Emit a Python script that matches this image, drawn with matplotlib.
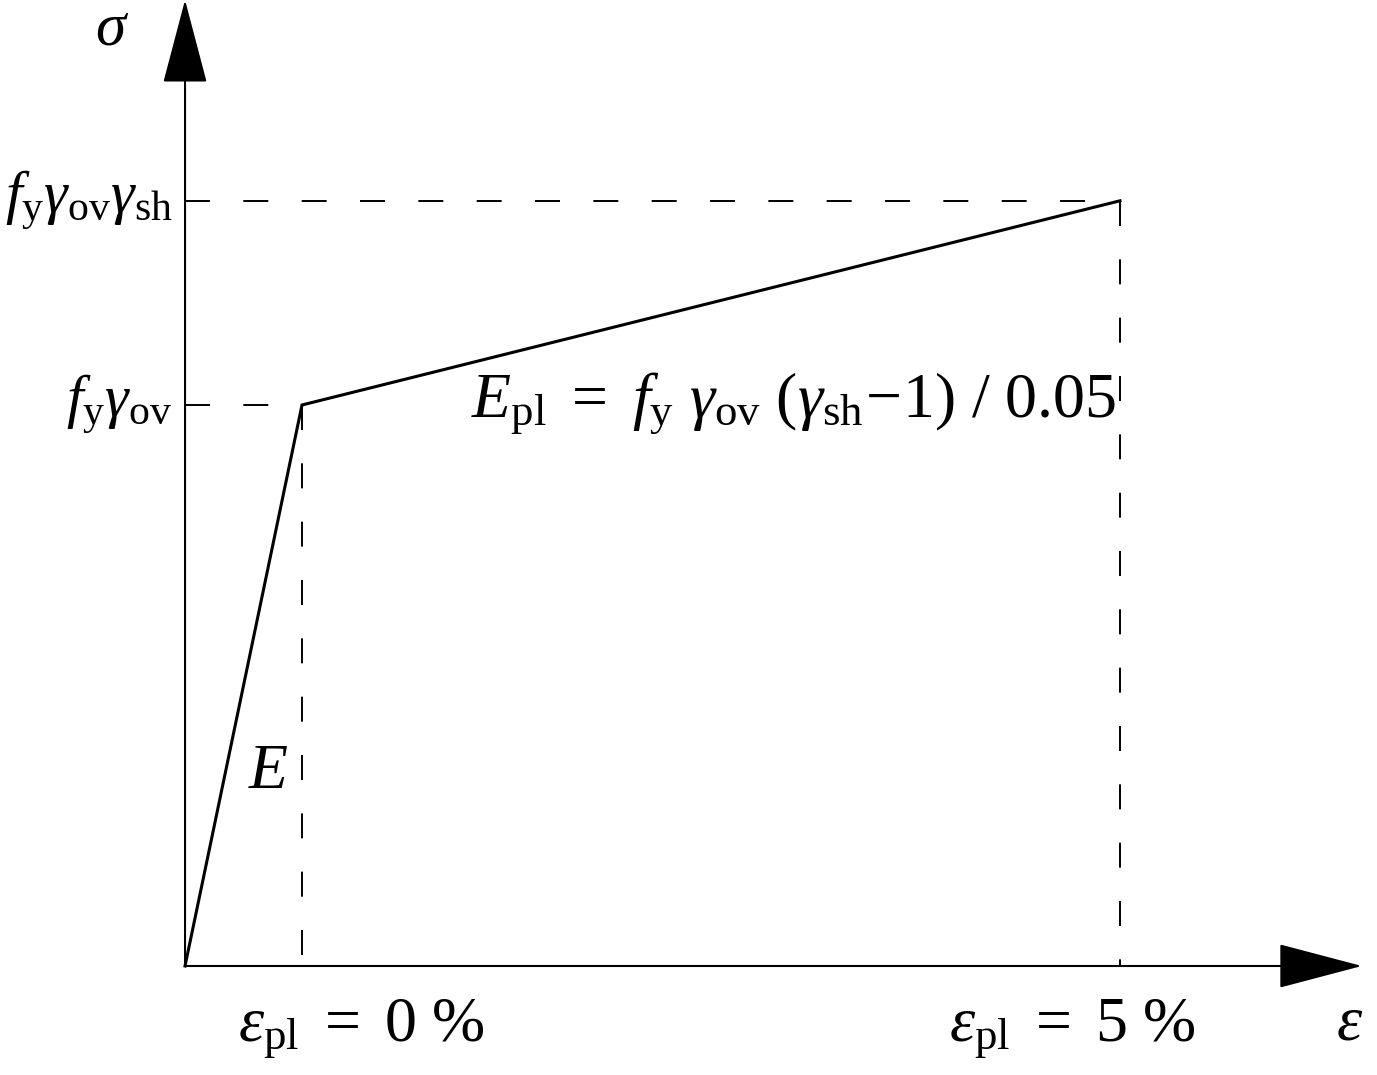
import matplotlib
matplotlib.use("Agg")
import matplotlib.pyplot as plt

plt.rcParams['font.family'] = ['Liberation Serif', 'DejaVu Serif']
plt.rcParams['mathtext.fontset'] = 'custom'
plt.rcParams['mathtext.rm'] = 'Liberation Serif'
plt.rcParams['mathtext.it'] = 'Liberation Serif:italic'
plt.rcParams['mathtext.bf'] = 'Liberation Serif:bold'
plt.rcParams['lines.scale_dashes'] = False

# bilinear stress-strain model (schematic values)
eps_y = 0.00715          # elastic strain at yield
eps_pl_max = 0.05        # plastic strain at ultimate
fy_gov = 1.0             # f_y * gamma_ov (normalised)
gamma_sh = 1.364

strain = [0.0, eps_y, eps_y + eps_pl_max]
stress = [0.0, fy_gov, fy_gov * gamma_sh]

ylabels = [r'$f_{\mathrm{y}}\gamma_{\mathrm{ov}}$',
           r'$f_{\mathrm{y}}\gamma_{\mathrm{ov}}\gamma_{\mathrm{sh}}$']
xlabels = [r'$\varepsilon_{\mathrm{pl}}\ =\ 0\ \%$',
           r'$\varepsilon_{\mathrm{pl}}\ =\ 5\ \%$']
eq_text = (r'$E_{\mathrm{pl}}\ =\ f_{\mathrm{y}}\ \gamma_{\mathrm{ov}}\ '
           r'(\gamma_{\mathrm{sh}}\!-\!1)\ /\ 0.05$')

fig = plt.figure(figsize=(13.77, 10.75), dpi=100)
ax = fig.add_axes([0, 0, 1, 1])
ax.set_xlim(-0.01131, 0.07286)
ax.set_ylim(-0.1943, 1.7219)
ax.axis('off')

fs = 46
dash = (0, (18, 24))

# curve
ax.plot(strain, stress, color='black', lw=2.2, solid_joinstyle='miter')

# guide lines
for e, s in zip(strain[1:], stress[1:]):
    ax.plot([0, e], [s, s], color='black', lw=1.4, linestyle=dash)
    ax.plot([e, e], [s, 0], color='black', lw=1.4, linestyle=dash)

# axes with arrows
arrow = dict(arrowstyle='-|>,head_length=55,head_width=14.5', mutation_scale=1,
             color='black', lw=1.5, shrinkA=0, shrinkB=0)
ax.annotate('', xy=(0, 1.0), xycoords=ax.get_xaxis_transform(),
            xytext=(0, 0), textcoords='data', arrowprops=arrow)
ax.annotate('', xy=(0.989, 0), xycoords=ax.get_yaxis_transform(),
            xytext=(0, 0), textcoords='data', arrowprops=arrow)

ax.text(-0.00446, 1.642, r'$\sigma$', fontsize=44, ha='center', va='baseline')
ax.text(0.0712, -0.105, r'$\varepsilon$', fontsize=fs, ha='center', va='center')

# y labels
for s, lab in zip(stress[1:], ylabels):
    ax.annotate(lab, xy=(0, s), xytext=(-9, 0), textcoords='offset points',
                fontsize=43, ha='right', va='center')

# x labels (left one sits right of its guide, right one left of it)
for e, lab, dx in zip(strain[1:], xlabels, [43, -34]):
    ax.annotate(lab, xy=(e, 0), xytext=(dx, -45), textcoords='offset points',
                fontsize=fs, ha='center', va='center')

ax.text(0.00507, 0.344, r'$E$', fontsize=fs, ha='center', va='center')
ax.text(0.03716, 1.0036, eq_text, fontsize=fs, ha='center', va='center')

fig.savefig('out.png', dpi=100)
